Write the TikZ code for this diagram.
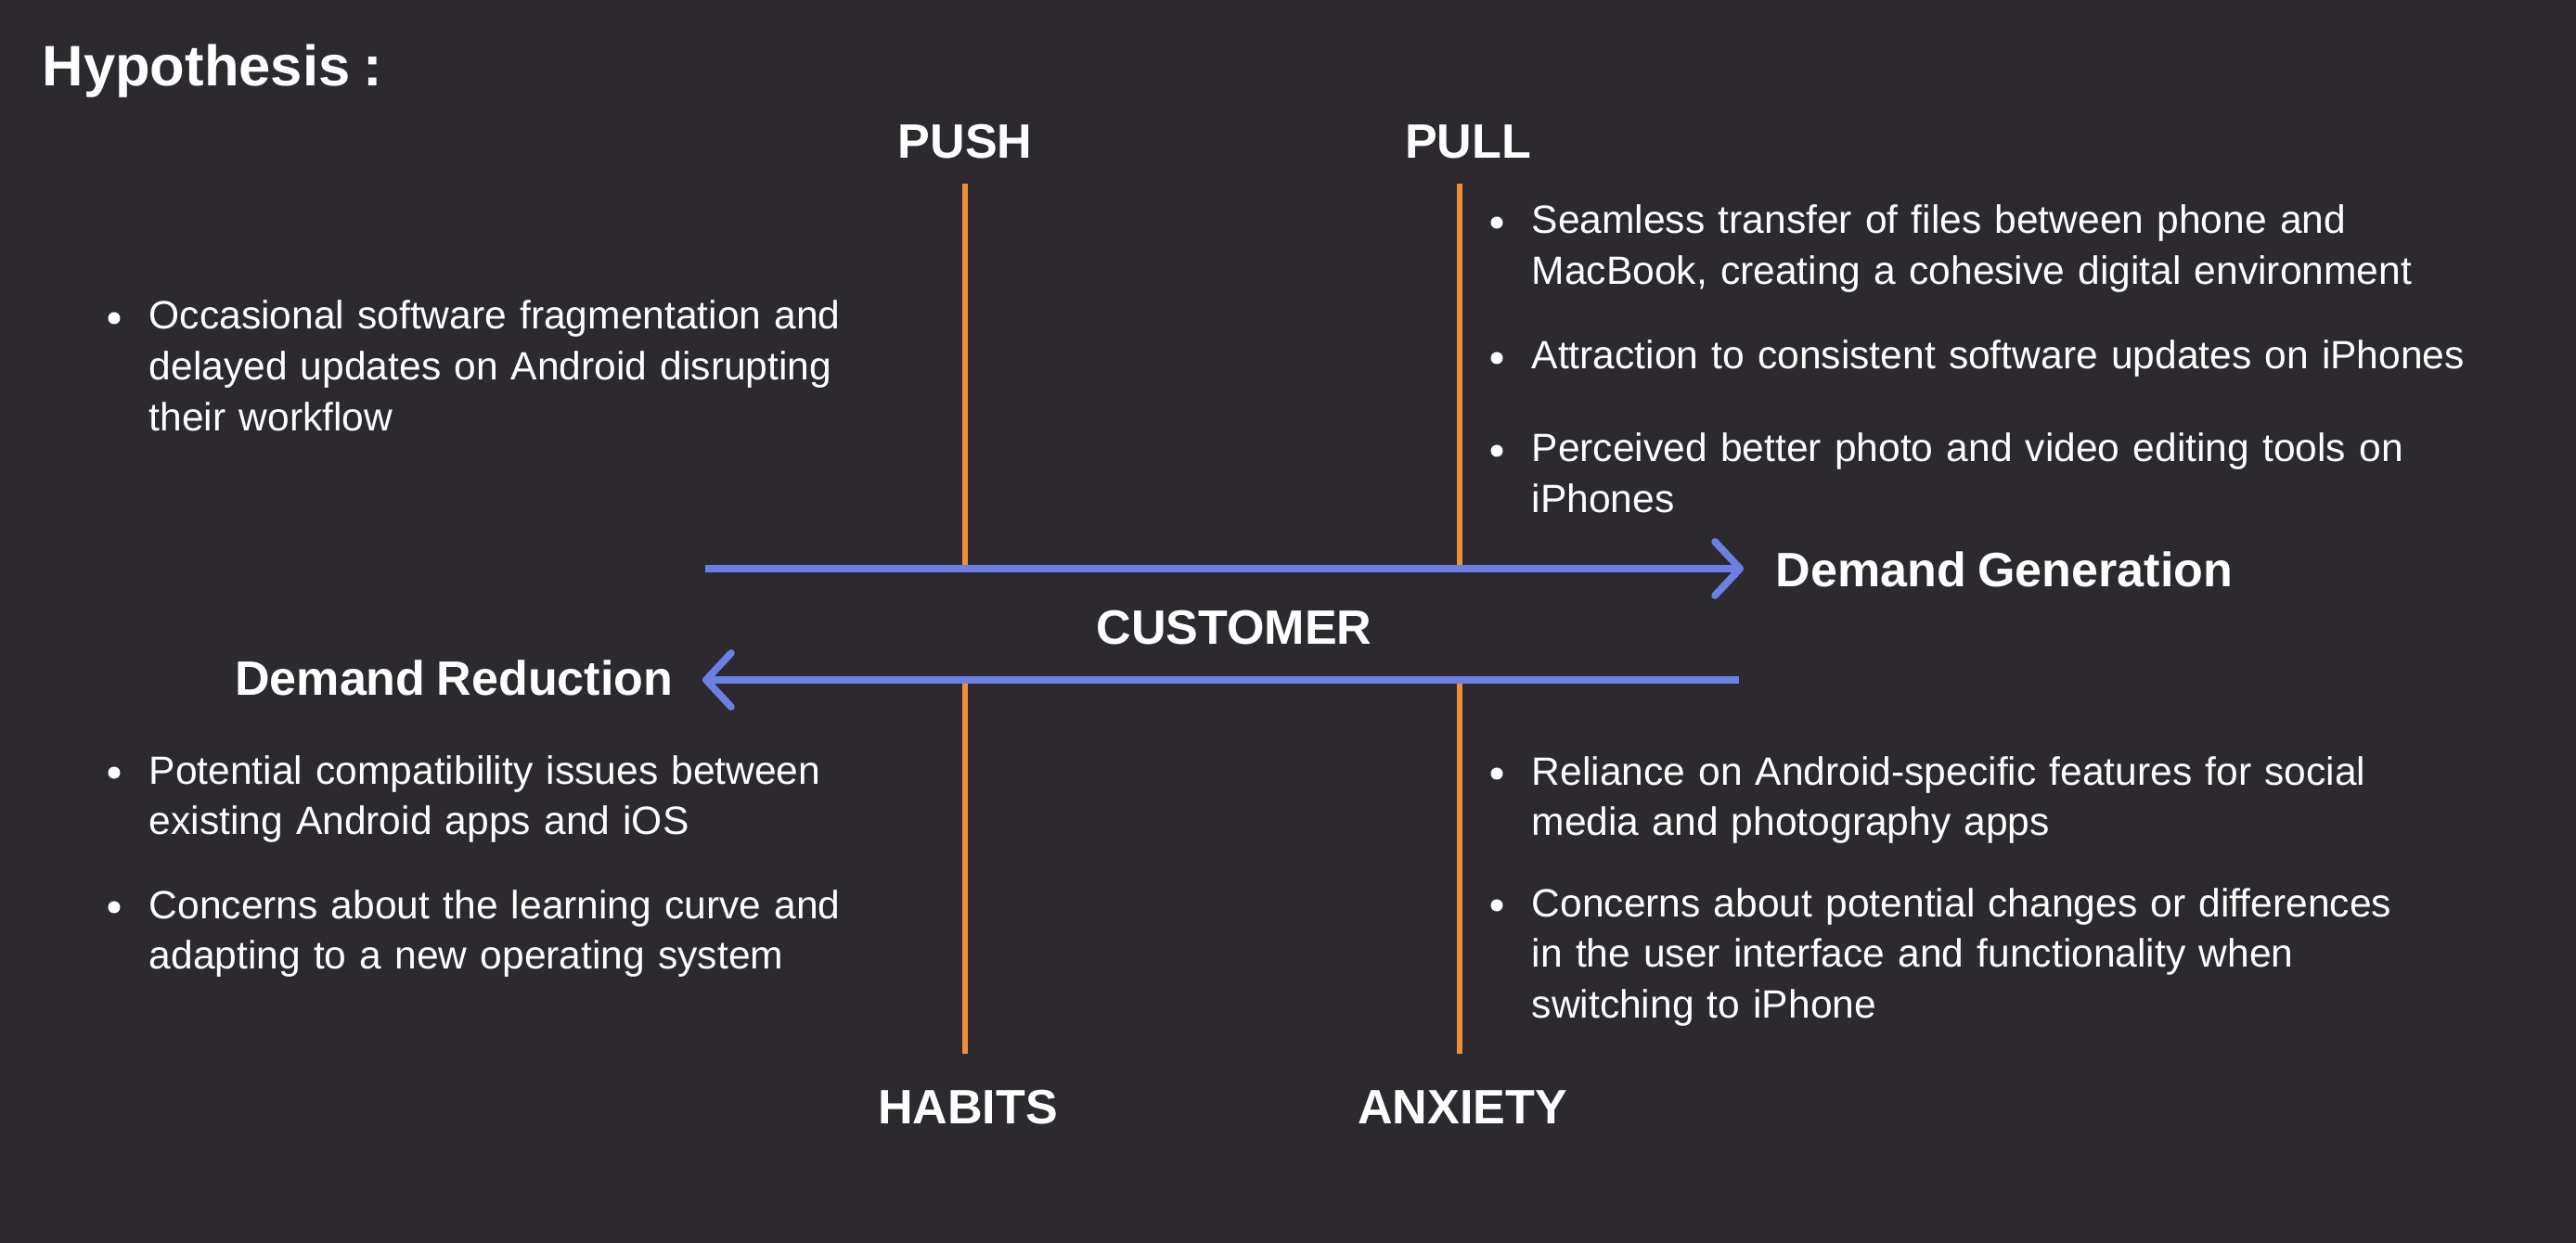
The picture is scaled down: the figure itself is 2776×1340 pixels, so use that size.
\documentclass[tikz,border=0pt]{standalone}
\usepackage{fontspec}
\setmainfont[WordSpace=0.85]{Liberation Sans}
\usetikzlibrary{arrows.meta}
\definecolor{bgdark}{HTML}{2C2A2E}
\definecolor{forceline}{HTML}{EF9038}
\definecolor{demandline}{HTML}{6C7FE2}

\begin{document}
\begin{tikzpicture}[x=0.01cm, y=-0.01cm,
  every node/.style={text=white, inner sep=0pt},
  force/.style={font=\fontsize{14.8}{17}\selectfont\bfseries, anchor=base},
  demand/.style={font=\fontsize{14.8}{17}\selectfont\bfseries},
  point/.style={font=\fontsize{12.1}{15.6}\selectfont, text width=11cm, align=left, anchor=base west},
  bar/.style={forceline, line width=1.8pt},
  flow/.style={demandline, line width=2.2pt, -{Straight Barb[length=0.27cm, width=0.58cm, round]}}]
% Canvas
\useasboundingbox (0,0) rectangle (2776,1340);
\fill[bgdark] (0,0) rectangle (2776,1340);
% Title
\node[font=\fontsize{17.5}{20}\selectfont\bfseries, anchor=base west] (title) at (45,93) {Hypothesis :};
% The four forces
\def\pushx{1040}
\def\pullx{1573}
\node[force] (push) at (\pushx,171) {PUSH};
\node[force] (pull) at (1582,171) {PULL};
\node[force] (habits) at (1043,1211) {HABITS};
\node[force] (anxiety) at (1576,1211) {ANXIETY};
% Orange force lines
\draw[bar] (\pushx,198) -- (\pushx,613);
\draw[bar] (\pullx,198) -- (\pullx,613);
\draw[bar] (\pushx,733) -- (\pushx,1136);
\draw[bar] (\pullx,733) -- (\pullx,1136);
% Customer and the two demand arrows
\node[force] (customer) at (1330,695) {CUSTOMER};
\node[demand, anchor=base west] (gen) at (1913,633) {Demand Generation};
\node[demand, anchor=base east] (red) at (726,749) {Demand Reduction};
\coordinate (genstart) at (760,613);
\coordinate (gentip) at (1879,613);
\coordinate (redstart) at (1874,733);
\coordinate (redtip) at (757,733);
\draw[flow] (genstart) -- (gentip);
\draw[flow] (redstart) -- (redtip);
% Push
\node[point] (occ) at (160,355) {Occasional software fragmentation and\\delayed updates on Android disrupting\\their workflow};
% Pull
\node[point] (seam) at (1650,252) {Seamless transfer of files between phone and\\MacBook, creating a cohesive digital environment};
\node[point] (attr) at (1650,398) {Attraction to consistent software updates on iPhones};
\node[point] (perc) at (1650,498) {Perceived better photo and video editing tools on\\iPhones};
% Habits
\node[point] (compat) at (160,845) {Potential compatibility issues between\\existing Android apps and iOS};
\node[point] (learn) at (160,990) {Concerns about the learning curve and\\adapting to a new operating system};
% Anxiety
\node[point] (reli) at (1650,846) {Reliance on Android-specific features for social\\media and photography apps};
\node[point] (diff) at (1650,988) {Concerns about potential changes or differences\\in the user interface and functionality when\\switching to iPhone};
% Bullets
\foreach \p in {occ,seam,attr,perc,compat,learn,reli,diff}
  \fill[white] ([xshift=-0.37cm, yshift=0.12cm]\p.base west) circle (0.065cm);
\end{tikzpicture}
\end{document}
